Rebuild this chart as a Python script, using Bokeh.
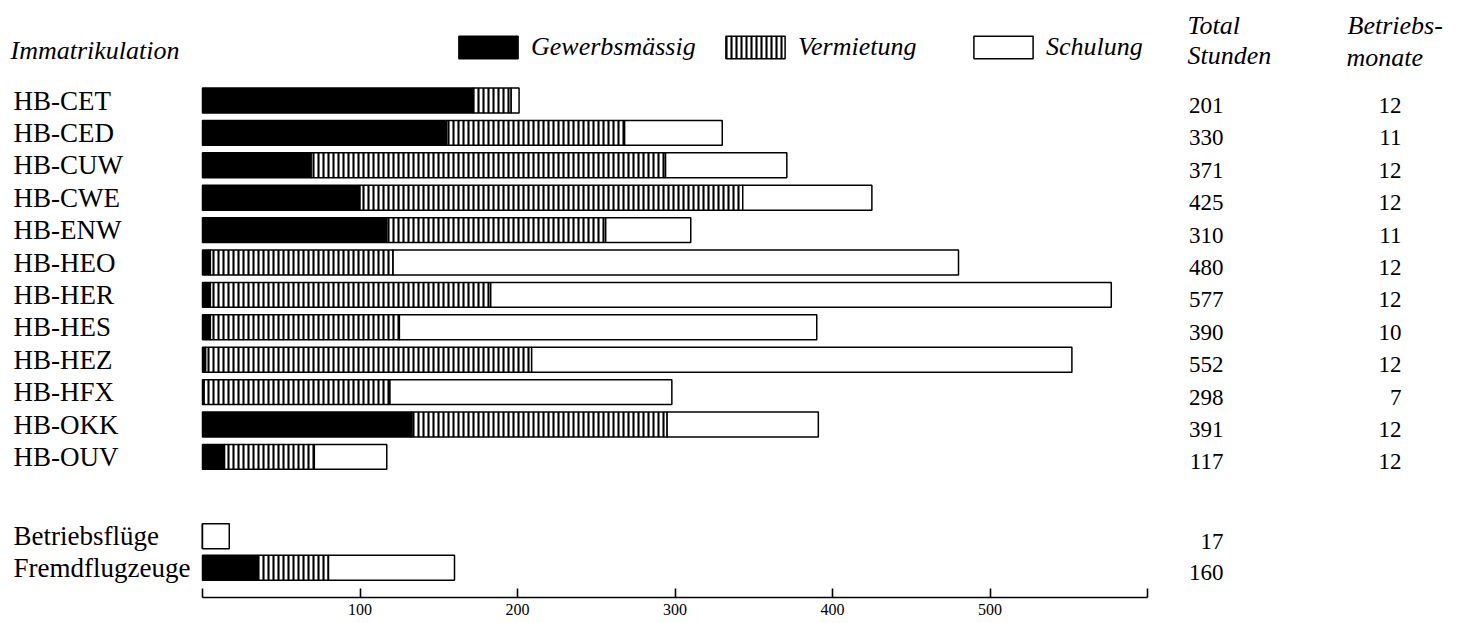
from bokeh.plotting import figure
from bokeh.models import (ColumnDataSource, Range1d, LinearAxis, FixedTicker,
                          Legend, LegendItem)
from bokeh.core.properties import value
from bokeh.embed import file_html
from bokeh.resources import INLINE

# ---------------- data ----------------
rows = ["HB-CET", "HB-CED", "HB-CUW", "HB-CWE", "HB-ENW", "HB-HEO", "HB-HER",
        "HB-HES", "HB-HEZ", "HB-HFX", "HB-OKK", "HB-OUV",
        "Betriebsflüge", "Fremdflugzeuge"]
gewerbsmaessig = [172, 155, 69, 100, 117, 5, 5, 5, 2, 1, 133, 14, 0, 35]
vermietung = [24, 113, 225, 243, 139, 116, 178, 120, 207, 118, 162, 57, 0, 45]
schulung = [5, 62, 77, 82, 54, 359, 394, 265, 343, 179, 96, 46, 17, 80]
total_stunden = ["201", "330", "371", "425", "310", "480", "577", "390", "552",
                 "298", "391", "117", "17", "160"]
betriebsmonate = ["12", "11", "12", "12", "11", "12", "12", "10", "12", "7",
                  "12", "12", "", ""]
x_ticks = [0, 100, 200, 300, 400, 500, 600]
x_tick_labels = {0: "", 100: "100", 200: "200", 300: "300", 400: "400",
                 500: "500", 600: ""}

# ---------------- layout ----------------
W, H = 1457, 623
BOTTOM = 26
FRAME_H = H - BOTTOM
PX_PER_UNIT = 1.575          # horizontal pixels per hour
X_ZERO_PX = 202              # pixel of value 0
ROW_PX = 32.4                # vertical pixels per row
ROW0_PX = 100                # pixel of first row centre

x_start = -X_ZERO_PX / PX_PER_UNIT
x_end = (W - X_ZERO_PX) / PX_PER_UNIT
y_top = -ROW0_PX / ROW_PX
y_bottom = (FRAME_H - ROW0_PX) / ROW_PX


def sx(px):      # pixel -> data x
    return (px - X_ZERO_PX) / PX_PER_UNIT


def sy(px):      # pixel -> data y (row units)
    return (px - ROW0_PX) / ROW_PX


row_pos = list(range(12)) + [13.45, 14.42]

SERIF = value("Liberation Serif")

p = figure(width=W, height=H, output_backend="svg", toolbar_location=None,
           x_range=Range1d(x_start, x_end), y_range=Range1d(y_bottom, y_top),
           x_axis_location=None, y_axis_location=None,
           min_border_left=0, min_border_right=0, min_border_top=0,
           min_border_bottom=BOTTOM)
p.outline_line_color = None
p.xgrid.visible = False
p.ygrid.visible = False
p.background_fill_color = "white"

src = ColumnDataSource(dict(y=row_pos, label=rows, g=gewerbsmaessig,
                            v=vermietung, s=schulung, tot=total_stunden,
                            mon=betriebsmonate))

renders = p.hbar_stack(["g", "v", "s"], y="y", height=0.77, source=src,
                       fill_color=["black", "white", "white"],
                       line_color="black", line_width=1.5,
                       hatch_pattern=[" ", "vertical_line", " "],
                       hatch_color="black", hatch_scale=5, hatch_weight=2.1)

# axis
ax = LinearAxis(ticker=FixedTicker(ticks=x_ticks),
                major_label_overrides=x_tick_labels,
                bounds=(0, 600),
                major_tick_in=9, major_tick_out=0, minor_tick_line_color=None,
                major_tick_line_width=1.6, axis_line_width=1.6,
                major_label_standoff=6,
                major_label_text_font="Liberation Serif",
                major_label_text_font_size="16px",
                major_label_text_color="black")
p.add_layout(ax, "below")

# row labels
p.text(x=sx(13), y="y", text="label", source=src, text_font=SERIF,
       text_font_size="27px", text_baseline="middle", text_align="left",
       text_color="black")
# right columns
p.text(x=sx(1223), y="y", text="tot", source=src, text_font=SERIF,
       text_font_size="23px", text_baseline="middle", text_align="right",
       y_offset=5, text_color="black")
p.text(x=sx(1401), y="y", text="mon", source=src, text_font=SERIF,
       text_font_size="23px", text_baseline="middle", text_align="right",
       y_offset=5, text_color="black")

# headers
hdr_text = ["Immatrikulation", "Total", "Stunden", "Betriebs-", "monate"]
hdr_x = [sx(10), sx(1187), sx(1187), sx(1347), sx(1346)]
hdr_y = [sy(50), sy(25), sy(55), sy(25), sy(57)]
p.text(x=hdr_x, y=hdr_y, text=hdr_text, text_font=SERIF,
       text_font_style="italic", text_font_size="26px",
       text_baseline="middle", text_align="left", text_color="black")

# legends (one per item for exact placement)
leg_names = ["Gewerbsmässig", "Vermietung", "Schulung"]
leg_x = [451, 718, 966]
for r, name, lx in zip(renders, leg_names, leg_x):
    leg = Legend(items=[LegendItem(label=name, renderers=[r])],
                 location=(lx, FRAME_H - 62), orientation="horizontal",
                 glyph_width=74, glyph_height=28, label_standoff=6,
                 padding=0, margin=0, border_line_alpha=0,
                 background_fill_alpha=0,
                 label_text_font="Liberation Serif",
                 label_text_font_style="italic",
                 label_text_font_size="26px", label_text_color="black")
    p.add_layout(leg, "center")

open("out.html", "w").write(file_html(p, INLINE))
